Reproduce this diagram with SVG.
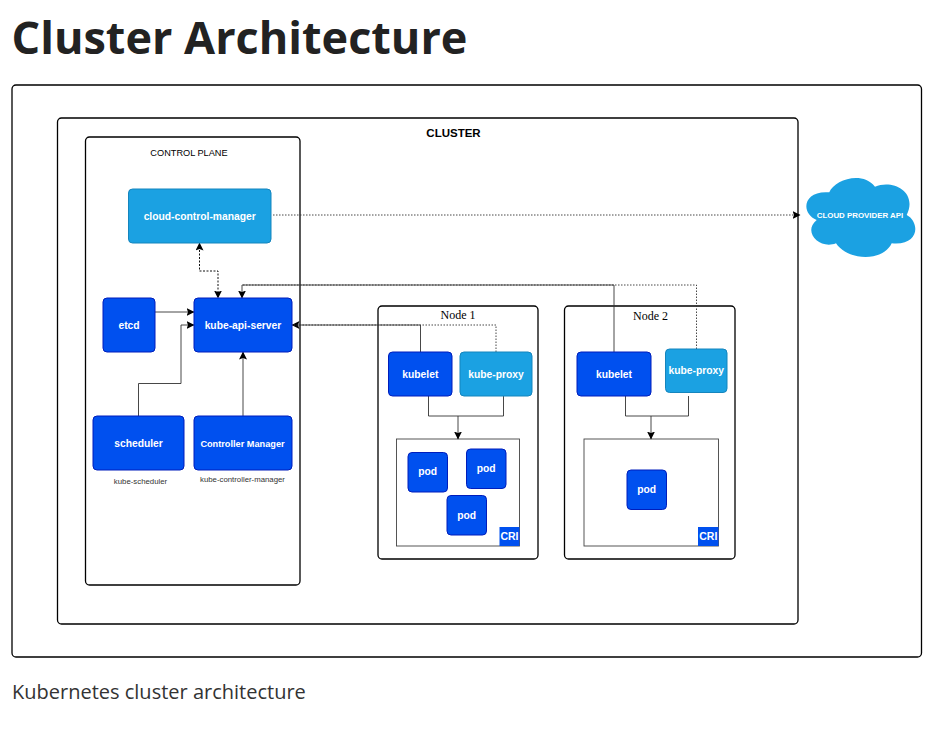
<svg xmlns="http://www.w3.org/2000/svg" width="940" height="735" viewBox="0 0 940 735">
<style>
.frame{fill:#fff;stroke:#000;stroke-width:1.3}
.blue{fill:#0050ef;stroke:#001dbc;stroke-width:1}
.sky{fill:#1ba1e2;stroke:#1585bd;stroke-width:1}
.t{font-family:"Liberation Sans",Arial,sans-serif;font-weight:bold;font-size:10.3px;fill:#fff;text-anchor:middle}
.sub{font-family:"Liberation Sans",Arial,sans-serif;font-size:7.8px;fill:#333;text-anchor:middle}
.n{font-family:"Liberation Serif","Times New Roman",serif;font-size:12px;fill:#000;text-anchor:middle}
.cri{font-size:10.5px}
.c{fill:none;stroke:#333;stroke-width:.9}
.d{fill:none;stroke:#111;stroke-width:1;stroke-dasharray:2 1.5}
.h{fill:none;stroke:#333;stroke-width:.9;stroke-dasharray:1.5 1.5}
</style>
<defs>
<marker id="a" viewBox="0 0 8 8" refX="7.5" refY="4" markerWidth="8" markerHeight="8" markerUnits="userSpaceOnUse" orient="auto-start-reverse"><path d="M0 0L8 4L0 8L1.5 4Z" fill="#000"/></marker>
</defs>
<rect width="940" height="735" fill="#fff"/>
<text x="11.500" y="54" font-family="'Open Sans',sans-serif" font-weight="700" font-size="45" fill="#222">Cluster Architecture</text>
<text x="12" y="699" font-family="'Open Sans',sans-serif" font-size="20" fill="#333">Kubernetes cluster architecture</text>
<rect id="outer" x="12" y="85" width="909.5" height="572" rx="4" class="frame"/>
<g id="cluster"><rect x="57.500" y="118" width="740.500" height="506" rx="4" class="frame"/><text x="453.500" y="137" font-family="'Liberation Sans',Arial,sans-serif" font-weight="700" font-size="11.500" text-anchor="middle">CLUSTER</text></g>
<g id="control-plane"><rect x="85.500" y="137" width="214.500" height="448" rx="4" class="frame"/><text x="189" y="156" font-family="'Liberation Sans',Arial,sans-serif" font-size="9.200" text-anchor="middle">CONTROL PLANE</text></g>
<g id="node-1-frame"><rect x="378" y="306" width="160" height="253" rx="4" class="frame"/><text class="n" x="458" y="319">Node 1</text></g>
<g id="node-2-frame"><rect x="564.500" y="306" width="170.500" height="253" rx="4" class="frame"/><text class="n" x="650.500" y="319.500">Node 2</text></g>
<g id="cri-1"><rect x="396.500" y="439" width="123" height="107" fill="#fff" stroke="#444" stroke-width=".9"/><rect x="499.500" y="527" width="20" height="19" fill="#0050ef"/><text class="t cri" x="509.500" y="540">CRI</text></g>
<g id="cri-2"><rect x="584" y="439" width="134.500" height="107" fill="#fff" stroke="#444" stroke-width=".9"/><rect x="698" y="527" width="20.500" height="19" fill="#0050ef"/><text class="t cri" x="708.300" y="540">CRI</text></g>
<g id="connectors">
<path class="h" d="M273 215H800" marker-end="url(#a)"/>
<path class="d" d="M199.500 243V271H218V298" marker-start="url(#a)" marker-end="url(#a)"/>
<path class="c" d="M155 312H194" marker-end="url(#a)"/>
<path class="c" d="M138.500 416V383.500H181V325H194" marker-end="url(#a)"/>
<path class="c" d="M243 416V352" marker-end="url(#a)"/>
<path class="c" d="M420.500 352V325H292" marker-end="url(#a)"/>
<path class="h" d="M496 352V325H292"/>
<path class="c" d="M614 352V285H242V298" marker-end="url(#a)"/>
<path class="h" d="M696.500 349V285H242"/>
<path class="c" d="M428.500 396V416H458V439" marker-end="url(#a)"/>
<path class="c" d="M503.500 396V416H458"/>
<path class="c" d="M625.500 396V416H651V439" marker-end="url(#a)"/>
<path class="c" d="M688.500 396V416H651"/>
</g>
<g id="cloud-control-manager"><rect class="sky" x="128.500" y="189" width="142.500" height="54" rx="4"/><text class="t" x="199.700" y="220">cloud-control-manager</text></g>
<g id="etcd"><rect class="blue" x="103" y="298" width="52" height="54" rx="4"/><text class="t" x="129" y="329">etcd</text></g>
<g id="kube-api-server"><rect class="blue" x="194" y="298" width="98" height="54" rx="4"/><text class="t" x="243" y="329">kube-api-server</text></g>
<g id="scheduler"><rect class="blue" x="93" y="416" width="91" height="54" rx="4"/><text class="t" x="138.500" y="447">scheduler</text><text class="sub" x="140.500" y="484">kube-scheduler</text></g>
<g id="controller-manager"><rect class="blue" x="194" y="416" width="98" height="54" rx="4"/><text class="t" x="242.500" y="447" style="font-size:9.200px">Controller Manager</text><text class="sub" x="242.500" y="482">kube-controller-manager</text></g>
<g id="kubelet-1"><rect class="blue" x="388.500" y="352" width="63.500" height="44" rx="4"/><text class="t" x="420.300" y="378">kubelet</text></g>
<g id="kube-proxy-1"><rect class="sky" x="460" y="352" width="72" height="44" rx="4"/><text class="t" x="496" y="378">kube-proxy</text></g>
<g id="pod-1a"><rect class="blue" x="408" y="452.500" width="39.500" height="39.500" rx="4"/><text class="t" x="427.700" y="475">pod</text></g>
<g id="pod-1b"><rect class="blue" x="466.500" y="449" width="39.500" height="39.500" rx="4"/><text class="t" x="486.200" y="472">pod</text></g>
<g id="pod-1c"><rect class="blue" x="447" y="495.500" width="39.500" height="39.500" rx="4"/><text class="t" x="466.700" y="519">pod</text></g>
<g id="kubelet-2"><rect class="blue" x="577" y="352" width="74" height="44" rx="4"/><text class="t" x="614" y="378">kubelet</text></g>
<g id="kube-proxy-2"><rect class="sky" x="665.500" y="349" width="61.500" height="43.500" rx="4"/><text class="t" x="696.300" y="374">kube-proxy</text></g>
<g id="pod-2"><rect class="blue" x="627" y="470" width="39.500" height="39.500" rx="4"/><text class="t" x="646.700" y="493">pod</text></g>
<g id="cloud-provider-api"><path d="M829.300 192.300C834 180 862 170 875 186.700C893 179 918 192 906.700 215C920 222 920 246 891.700 243.300C883 262 848 261 836 243.300C820 250 802 232 816.700 220C800 213 803 190 829.300 192.300Z" fill="#1ba1e2"/><text x="860" y="218" font-family="'Liberation Sans',Arial,sans-serif" font-weight="700" font-size="7.900" fill="#fff" text-anchor="middle">CLOUD PROVIDER API</text></g>
</svg>
